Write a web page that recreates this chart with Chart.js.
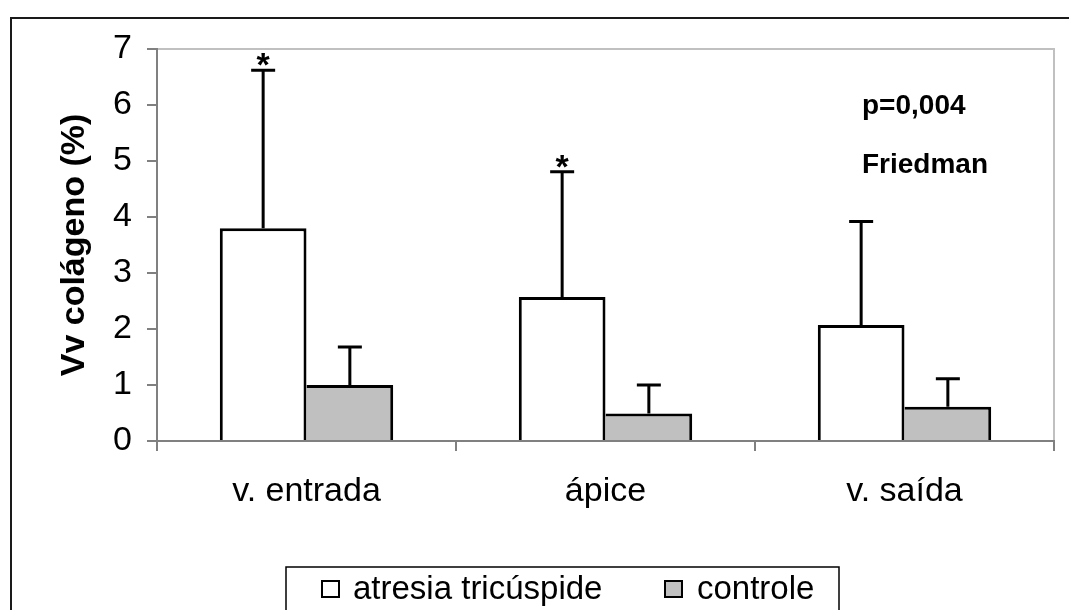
<!DOCTYPE html>
<html>
<head>
<meta charset="utf-8">
<script src="https://cdn.jsdelivr.net/npm/chart.js@4/dist/chart.umd.min.js"></script>
<style>
  html, body { margin: 0; padding: 0; background: #fff; }
  #grafico-colageno { display: block; }
</style>
</head>
<body>
<canvas id="grafico-colageno" width="1069" height="610"></canvas>
<script>
const regioes = ["v. entrada", "ápice", "v. saída"];

const mediaAtresia = [3.8, 2.57, 2.07];
const dpAtresia = [2.82, 2.24, 1.85];

const mediaControle = [1.0, 0.49, 0.61];
const dpControle = [0.68, 0.51, 0.5];

// marca de significância sobre a barra de atresia
const significancia = ["*", "*", ""];

const ticksY = [0, 1, 2, 3, 4, 5, 6, 7];

const fonte = "'Liberation Sans', Arial, sans-serif";

// moldura externa e borda cinza do quadro do gráfico
const moldura = {
  id: "moldura",
  beforeDraw(chart) {
    const ctx = chart.ctx;
    const a = chart.chartArea;
    ctx.save();
    ctx.fillStyle = "#fff";
    ctx.fillRect(0, 0, chart.width, chart.height);
    ctx.strokeStyle = "#1a1a1a";
    ctx.lineWidth = 2;
    ctx.strokeRect(11, 18, 1200, 800);
    ctx.strokeStyle = "#c0c0c0";
    ctx.lineWidth = 2;
    ctx.beginPath();
    ctx.moveTo(a.left, a.top);
    ctx.lineTo(a.right, a.top);
    ctx.lineTo(a.right, a.bottom);
    ctx.stroke();
    ctx.restore();
  },
};

// barras de erro (só para cima), asteriscos e texto do teste
const extras = {
  id: "extras",
  afterDatasetsDraw(chart) {
    const ctx = chart.ctx;
    const y = chart.scales.y;
    const desvios = [dpAtresia, dpControle];
    ctx.save();
    ctx.strokeStyle = "#000";
    ctx.lineWidth = 3;
    chart.data.datasets.forEach((ds, i) => {
      const meta = chart.getDatasetMeta(i);
      meta.data.forEach((bar, j) => {
        const topo = y.getPixelForValue(ds.data[j] + desvios[i][j]);
        ctx.beginPath();
        ctx.moveTo(bar.x, bar.y);
        ctx.lineTo(bar.x, topo);
        ctx.moveTo(bar.x - 12, topo);
        ctx.lineTo(bar.x + 12, topo);
        ctx.stroke();

        if (i === 0 && significancia[j]) {
          ctx.fillStyle = "#000";
          ctx.font = "bold 34px " + fonte;
          ctx.textAlign = "center";
          ctx.textBaseline = "alphabetic";
          ctx.fillText(significancia[j], bar.x, topo + 6);
        }
      });
    });

    ctx.fillStyle = "#000";
    ctx.font = "bold 28px " + fonte;
    ctx.textAlign = "left";
    ctx.textBaseline = "middle";
    ctx.fillText("p=0,004", 862, 106);
    ctx.fillText("Friedman", 862, 165);
    ctx.restore();
  },
  afterDraw(chart) {
    // legenda em caixa, cortada pela borda inferior
    const ctx = chart.ctx;
    ctx.save();
    ctx.strokeStyle = "#000";
    ctx.lineWidth = 1.5;
    ctx.strokeRect(286, 567, 553, 80);

    const posicoes = [[322, 353], [665, 697]];
    chart.data.datasets.forEach((ds, i) => {
      const [xq, xt] = posicoes[i];
      ctx.fillStyle = ds.backgroundColor;
      ctx.fillRect(xq, 581, 17, 16);
      ctx.lineWidth = 2;
      ctx.strokeRect(xq, 581, 17, 16);
      ctx.fillStyle = "#000";
      ctx.font = "33px " + fonte;
      ctx.textAlign = "left";
      ctx.textBaseline = "alphabetic";
      ctx.fillText(ds.label, xt, 599);
    });
    ctx.restore();
  },
};

new Chart(document.getElementById("grafico-colageno"), {
  type: "bar",

  data: {
    labels: regioes,

    datasets: [
      {
        label: "atresia tricúspide",
        data: mediaAtresia,
        backgroundColor: "#ffffff",
        borderColor: "#000",
        borderWidth: { top: 3, left: 3, right: 3, bottom: 0 },
        borderSkipped: false,
        categoryPercentage: 0.58,
        barPercentage: 1,
      },

      {
        label: "controle",
        data: mediaControle,
        backgroundColor: "#c0c0c0",
        borderColor: "#000",
        borderWidth: { top: 3, left: 0, right: 3, bottom: 0 },
        borderSkipped: false,
        categoryPercentage: 0.58,
        barPercentage: 1,
      },
    ],
  },

  options: {
    responsive: false,
    animation: false,
    layout: {
      padding: { top: 49, right: 15, left: 0, bottom: 0 },
    },
    plugins: {
      legend: { display: false },
      tooltip: { enabled: false },
    },
    scales: {
      x: {
        grid: {
          offset: true,
          drawOnChartArea: false,
          drawTicks: true,
          tickLength: 10,
          color: "#808080",
          lineWidth: 2,
        },
        border: { color: "#808080", width: 2 },
        ticks: {
          color: "#000",
          padding: 20,
          font: { family: fonte, size: 34 },
        },
        afterFit(s) {
          s.height = 169;
        },
      },
      y: {
        min: 0,
        max: 7,
        afterBuildTicks(s) {
          s.ticks = ticksY.map((v) => ({ value: v }));
        },
        grid: {
          drawOnChartArea: false,
          drawTicks: true,
          tickLength: 10,
          color: "#808080",
          lineWidth: 2,
        },
        border: { color: "#808080", width: 2 },
        ticks: {
          color: "#000",
          padding: 15,
          font: { family: fonte, size: 34 },
        },
        title: {
          display: true,
          text: "Vv colágeno (%)",
          color: "#000",
          padding: { top: 54, bottom: 0 },
          font: { family: fonte, size: 34, weight: "bold" },
        },
        afterFit(s) {
          s.width = 157;
        },
      },
    },
  },

  plugins: [moldura, extras],
});
</script>
</body>
</html>
